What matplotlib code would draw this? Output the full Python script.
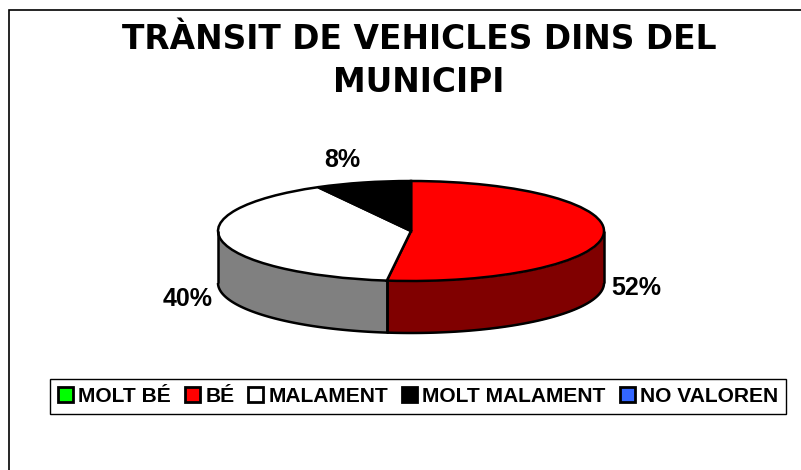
import numpy as np
from matplotlib import pyplot as plt
from matplotlib.patches import Patch, Rectangle

W, H = 801, 470

labels = ['MOLT BÉ', 'BÉ', 'MALAMENT', 'MOLT MALAMENT', 'NO VALOREN']
vals = [0, 52, 40, 8, 0]
colors = ['#00FF00', '#FF0000', '#FFFFFF', '#000000', '#3366FF']
side_colors = ['#008000', '#800000', '#808080', '#000000', '#1A3380']

fig = plt.figure(figsize=(W / 100, H / 100), dpi=100)

# marc del grafic
fig.add_artist(Rectangle((8.5 / W, -0.05), 1, 1.05 - 10 / H, transform=fig.transFigure,
                         fc='white', ec='black', lw=1.2, zorder=-1))

fig.text(419 / W, 1 - 49 / H, 'TRÀNSIT DE VEHICLES DINS DEL', ha='center', va='baseline',
         fontsize=23.7, fontweight='bold', family='DejaVu Sans')
fig.text(419 / W, 1 - 92 / H, 'MUNICIPI', ha='center', va='baseline',
         fontsize=23.7, fontweight='bold', family='DejaVu Sans')

# el·lipse superior: x de 218 a 604, y de 181 a 281
ax = fig.add_axes([218 / W, 1 - 281 / H, 386 / W, 100 / H])
depth = 52 / 50

# paret lateral, nomes la part davantera (angles entre 90 i 270 graus en sentit horari)
cum = np.cumsum([0] + vals) / sum(vals) * 360
for i in range(len(vals)):
    a0 = max(cum[i], 90)
    a1 = min(cum[i + 1], 270)
    if a1 <= a0:
        continue
    t = np.radians(np.linspace(a0, a1, 100))
    x = np.sin(t)
    y = np.cos(t)
    ax.fill_between(x, y - depth, y, color=side_colors[i], lw=0, clip_on=False)
    ax.plot(x, y - depth, color='black', lw=1.8, clip_on=False, solid_capstyle='butt')
    ax.plot([x[0], x[0]], [y[0] - depth, y[0]], color='black', lw=1.8, clip_on=False, solid_capstyle='butt')
    ax.plot([x[-1], x[-1]], [y[-1] - depth, y[-1]], color='black', lw=1.8, clip_on=False, solid_capstyle='butt')

wedges, _ = ax.pie(vals, colors=colors, startangle=90, counterclock=False,
                   wedgeprops={'lw': 1.8, 'edgecolor': 'black'})
for w in wedges:
    w.set_clip_on(False)
ax.set_aspect('auto')
ax.set_xlim(-1, 1)
ax.set_ylim(-1, 1)

# etiquetes
fig.text(636 / W, 1 - 288 / H, '%d%%' % vals[1], ha='center', va='center',
         fontsize=18, fontweight='bold', family='Liberation Sans')
fig.text(188 / W, 1 - 299 / H, '%d%%' % vals[2], ha='center', va='center',
         fontsize=18, fontweight='bold', family='Liberation Sans')
fig.text(342 / W, 1 - 160 / H, '%d%%' % vals[3], ha='center', va='center',
         fontsize=18, fontweight='bold', family='Liberation Sans')

handles = [Patch(fc=c, ec='black', lw=2) for c in colors]
leg = fig.legend(handles, labels, ncol=5, loc='center', bbox_to_anchor=(418 / W, 1 - 396.5 / H),
                 frameon=True, fancybox=False, edgecolor='black', framealpha=1, borderaxespad=0,
                 handlelength=0.73, handleheight=0.73, handletextpad=0.24, columnspacing=0.66,
                 borderpad=0.36, prop={'family': 'Liberation Sans', 'weight': 'bold', 'size': 15.1})
leg.get_frame().set_linewidth(1)

plt.savefig('out.png', dpi=100)
